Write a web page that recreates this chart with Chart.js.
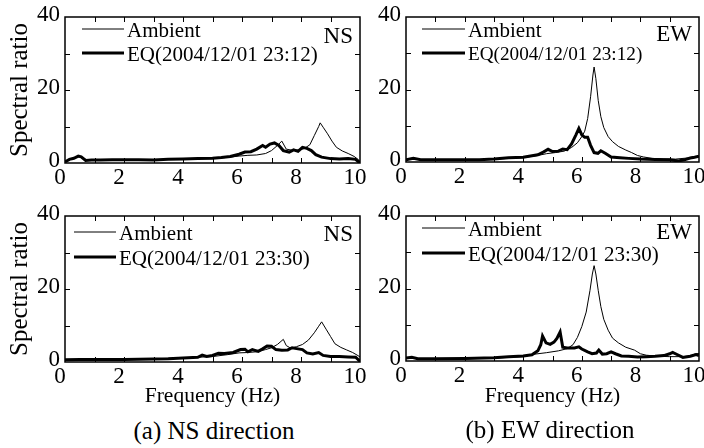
<!DOCTYPE html>
<html>
<head>
<meta charset="utf-8">
<script src="https://cdn.jsdelivr.net/npm/chart.js@4.4.1/dist/chart.umd.min.js"></script>
<style>
  body { margin: 0; background: #fff; width: 704px; height: 448px; overflow: hidden; position: relative; font-family: "Liberation Serif", "Times New Roman", Times, "DejaVu Serif", serif; }
  canvas { position: absolute; }
  .cap { position: absolute; font-size: 25px; color: #000; white-space: nowrap; transform: translate(-50%, -50%); }
</style>
</head>
<body>
<canvas id="nsTop" width="372" height="200" style="left:0;top:0"></canvas>
<canvas id="ewTop" width="334" height="200" style="left:370px;top:0"></canvas>
<canvas id="nsBot" width="372" height="210" style="left:0;top:200px"></canvas>
<canvas id="ewBot" width="334" height="210" style="left:370px;top:200px"></canvas>
<div class="cap" style="left:214px;top:431px">(a) NS direction</div>
<div class="cap" style="left:550px;top:430px">(b) EW direction</div>
<script>
// tick labels
const xTicks = [0, 2, 4, 6, 8, 10];
const yTicks = [0, 20, 40];

// NS, EQ 2004/12/01 23:12
const nsAmb1F = [0, 0.2, 0.4, 0.5, 0.6, 0.8, 1.0, 1.5, 2.0, 2.5, 3.0, 3.5, 4.0, 4.5, 5.0, 5.3, 5.6, 5.9, 6.2, 6.5, 6.8, 7.0, 7.2, 7.35, 7.5, 7.7, 7.9, 8.1, 8.3, 8.45, 8.6, 8.65, 8.75, 8.9, 9.05, 9.2, 9.4, 9.6, 9.8, 9.95, 10];
const nsAmb1 = [0.5, 1.0, 1.6, 1.7, 1.2, 0.8, 0.9, 0.9, 0.9, 0.9, 0.9, 1.0, 1.1, 1.2, 1.2, 1.4, 1.6, 1.9, 2.1, 2.2, 2.6, 3.4, 4.8, 6.0, 3.8, 3.5, 3.6, 3.9, 5.0, 7.5, 10.0, 11.0, 9.8, 8.0, 6.0, 4.3, 3.3, 2.6, 1.8, 0.9, 0.3];
const nsEq1F = [0, 0.15, 0.3, 0.45, 0.55, 0.7, 0.9, 1.2, 1.6, 2.0, 2.5, 3.0, 3.5, 4.0, 4.5, 5.0, 5.3, 5.6, 5.9, 6.1, 6.3, 6.5, 6.7, 6.8, 6.95, 7.1, 7.25, 7.4, 7.6, 7.75, 7.9, 8.05, 8.2, 8.35, 8.5, 8.7, 9.0, 9.3, 9.6, 9.85, 10];
const nsEq1 = [0.3, 1.0, 1.3, 1.9, 1.7, 0.7, 0.8, 0.8, 0.9, 0.9, 0.9, 0.8, 1.0, 1.1, 1.2, 1.3, 1.5, 1.8, 2.4, 3.0, 3.1, 3.8, 4.8, 4.3, 5.2, 5.5, 4.8, 3.4, 3.0, 3.6, 3.2, 4.3, 4.0, 3.4, 2.3, 1.6, 1.2, 1.1, 1.2, 1.0, 0];

// EW, EQ 2004/12/01 23:12
const ewAmb1F = [0, 0.25, 0.5, 1.0, 1.5, 2.0, 2.5, 3.0, 3.5, 4.0, 4.5, 4.8, 5.1, 5.4, 5.65, 5.85, 6.0, 6.1, 6.2, 6.3, 6.38, 6.42, 6.48, 6.56, 6.65, 6.75, 6.9, 7.05, 7.25, 7.5, 7.7, 7.9, 8.1, 8.4, 8.8, 9.2, 9.6, 9.8, 10];
const ewAmb1 = [0.6, 1.0, 0.6, 0.6, 0.6, 0.6, 0.6, 0.8, 1.0, 1.2, 1.8, 2.3, 2.6, 3.0, 4.0, 5.3, 7.0, 8.5, 12.0, 18.0, 24.0, 26.2, 23.0, 17.0, 12.5, 9.5, 7.0, 5.6, 4.3, 3.3, 2.6, 1.8, 1.4, 1.0, 0.8, 0.8, 1.1, 1.4, 1.5];
const ewEq1F = [0, 0.25, 0.5, 1.0, 1.5, 2.0, 2.5, 3.0, 3.5, 4.0, 4.3, 4.5, 4.7, 4.85, 5.0, 5.2, 5.35, 5.5, 5.65, 5.8, 5.9, 6.0, 6.1, 6.2, 6.3, 6.42, 6.55, 6.65, 6.8, 7.0, 7.3, 7.6, 8.0, 8.5, 9.0, 9.3, 9.5, 9.7, 9.85, 10];
const ewEq1 = [0.6, 1.0, 0.6, 0.6, 0.6, 0.6, 0.6, 0.8, 1.2, 1.3, 1.7, 2.0, 2.8, 3.5, 2.9, 3.0, 3.6, 3.4, 5.0, 7.5, 9.3, 7.5, 6.8, 6.8, 4.6, 2.6, 2.4, 3.1, 2.4, 1.4, 1.2, 1.0, 0.8, 0.7, 0.6, 0.3, 0.6, 1.1, 1.3, 1.6];

// NS, EQ 2004/12/01 23:30
const nsAmb2F = [0, 0.5, 1.0, 2.0, 3.0, 4.0, 4.5, 5.0, 5.5, 5.9, 6.2, 6.5, 6.8, 7.0, 7.2, 7.4, 7.5, 7.65, 7.85, 8.05, 8.25, 8.45, 8.6, 8.7, 8.85, 9.0, 9.15, 9.35, 9.55, 9.75, 9.9, 10];
const nsAmb2 = [0.6, 0.7, 0.7, 0.8, 0.9, 1.1, 1.3, 1.5, 2.0, 2.5, 2.6, 2.8, 3.4, 3.9, 4.8, 6.2, 4.5, 3.8, 4.2, 4.8, 6.0, 8.0, 9.8, 11.0, 9.0, 7.0, 5.0, 4.0, 3.3, 2.6, 1.9, 1.4];
const nsEq2F = [0, 0.5, 1.0, 2.0, 3.0, 3.5, 4.0, 4.5, 4.65, 4.8, 5.0, 5.2, 5.4, 5.7, 5.95, 6.1, 6.2, 6.35, 6.55, 6.7, 6.85, 7.0, 7.15, 7.35, 7.55, 7.7, 7.9, 8.05, 8.2, 8.4, 8.6, 8.75, 9.0, 9.3, 9.6, 9.85, 10];
const nsEq2 = [0.6, 0.7, 0.7, 0.7, 0.8, 0.9, 1.1, 1.3, 1.9, 1.5, 1.8, 2.4, 2.3, 2.6, 3.4, 3.5, 2.8, 3.4, 2.9, 3.6, 4.4, 4.3, 3.4, 3.2, 3.3, 3.9, 3.6, 3.4, 2.5, 2.2, 2.6, 1.8, 1.5, 1.5, 1.4, 1.3, 0.2];

// EW, EQ 2004/12/01 23:30
const ewAmb2F = [0, 0.2, 0.4, 1.0, 2.0, 3.0, 3.5, 4.0, 4.4, 4.8, 5.2, 5.5, 5.7, 5.85, 6.0, 6.15, 6.28, 6.36, 6.42, 6.48, 6.56, 6.65, 6.75, 6.9, 7.05, 7.25, 7.5, 7.8, 8.0, 8.2, 8.6, 9.0, 9.4, 9.7, 9.85, 10];
const ewAmb2 = [0.8, 1.0, 0.6, 0.6, 0.6, 0.8, 1.0, 1.2, 1.9, 2.3, 2.8, 3.4, 4.5, 6.5, 9.5, 13.5, 19.5, 24.0, 26.3, 24.0, 19.5, 15.0, 11.5, 8.5, 6.3, 5.0, 3.8, 3.0, 2.0, 1.6, 1.3, 1.2, 1.2, 1.4, 1.9, 2.1];
const ewEq2F = [0, 0.2, 0.4, 1.0, 2.0, 3.0, 3.5, 4.0, 4.3, 4.5, 4.6, 4.66, 4.78, 4.92, 5.05, 5.15, 5.26, 5.35, 5.5, 5.75, 5.9, 6.0, 6.2, 6.35, 6.5, 6.58, 6.7, 6.85, 7.0, 7.15, 7.35, 7.6, 7.9, 8.2, 8.5, 8.8, 9.0, 9.1, 9.25, 9.45, 9.7, 9.9, 10];
const ewEq2 = [0.8, 1.0, 0.6, 0.6, 0.7, 0.9, 1.2, 1.4, 1.7, 2.8, 4.5, 6.9, 5.0, 4.6, 5.2, 6.2, 8.0, 3.8, 3.6, 3.6, 3.9, 3.3, 2.5, 2.0, 2.2, 3.0, 1.9, 2.0, 2.5, 2.0, 1.4, 1.3, 1.1, 1.2, 1.3, 1.5, 2.0, 2.4, 1.8, 1.0, 1.3, 1.8, 1.5];

const FONT = '"Liberation Serif", "Times New Roman", Times, "DejaVu Serif", serif';

function toPoints(fs, vs) {
    return fs.map((f, i) => ({ x: f, y: vs[i] }));
}

// frame, inward tick marks, legend and direction label
const panelDecor = {
    id: 'panelDecor',
    afterDatasetsDraw(chart, args, o) {
        const { ctx, chartArea: a, scales: { x, y } } = chart;
        ctx.save();
        ctx.strokeStyle = '#000';
        ctx.lineWidth = 1.5;
        ctx.strokeRect(a.left, a.top, a.right - a.left, a.bottom - a.top);
        ctx.lineWidth = 1;
        ctx.beginPath();
        x.ticks.forEach(t => {
            if (t.value <= 0 || t.value >= 10) return;
            const px = Math.round(x.getPixelForValue(t.value)) + 0.5;
            ctx.moveTo(px, a.bottom); ctx.lineTo(px, a.bottom - 5);
            ctx.moveTo(px, a.top); ctx.lineTo(px, a.top + 5);
        });
        y.ticks.forEach(t => {
            if (t.value <= 0 || t.value >= 40) return;
            const py = Math.round(y.getPixelForValue(t.value)) + 0.5;
            ctx.moveTo(a.left, py); ctx.lineTo(a.left + 5, py);
            ctx.moveTo(a.right, py); ctx.lineTo(a.right - 5, py);
        });
        ctx.stroke();

        // legend
        ctx.fillStyle = '#000';
        ctx.textBaseline = 'middle';
        ctx.textAlign = 'left';
        chart.data.datasets.forEach((ds, i) => {
            const ly = a.top + o.legY[i];
            ctx.lineWidth = ds.borderWidth;
            ctx.beginPath();
            ctx.moveTo(a.left + o.legX[0], ly);
            ctx.lineTo(a.left + o.legX[1], ly);
            ctx.stroke();
            ctx.font = o.legFont[i] + 'px ' + FONT;
            ctx.fillText(ds.label, a.left + o.legX[1] + 3, ly + 2);
        });

        ctx.font = '23px ' + FONT;
        ctx.textAlign = 'right';
        ctx.fillText(o.dir, a.right - 7, a.top + o.dirY);
        ctx.restore();
    }
};

function makePanel(id, ambF, amb, eqF, eq, cfg) {
    new Chart(document.getElementById(id), {
        type: 'line',
        data: {
            datasets: [
                { label: 'Ambient', data: toPoints(ambF, amb), borderColor: '#000', borderWidth: 1, pointRadius: 0, tension: 0 },
                { label: cfg.eqLabel, data: toPoints(eqF, eq), borderColor: '#000', borderWidth: 3, pointRadius: 0, tension: 0 }
            ]
        },
        options: {
            responsive: false,
            animation: false,
            layout: { padding: { top: cfg.padTop, right: cfg.padRight, left: 0, bottom: 0 } },
            plugins: {
                legend: { display: false },
                tooltip: { enabled: false },
                panelDecor: cfg.decor
            },
            scales: {
                x: {
                    type: 'linear', min: 0, max: 10,
                    grid: { display: false, drawTicks: false },
                    border: { display: false },
                    ticks: {
                        stepSize: 1, autoSkip: false, maxRotation: 0, padding: 1, labelOffset: -5,
                        color: '#000', font: { family: FONT, size: 23 },
                        callback: v => xTicks.includes(v) ? String(v) : ''
                    },
                    title: {
                        display: cfg.xTitle, text: 'Frequency (Hz)', color: '#000',
                        font: { family: FONT, size: 21.5 }, padding: { top: 0, bottom: 1 }
                    },
                    afterFit: s => { s.height = cfg.xH; s.paddingLeft = 0; s.paddingRight = 0; }
                },
                y: {
                    min: 0, max: 40,
                    grid: { display: false, drawTicks: false },
                    border: { display: false },
                    ticks: {
                        stepSize: 10, autoSkip: false, padding: 5, labelOffset: -2,
                        color: '#000', font: { family: FONT, size: 23 },
                        callback: v => yTicks.includes(v) ? String(v) : ''
                    },
                    title: {
                        display: cfg.yTitle, text: 'Spectral ratio', color: '#000',
                        font: { family: FONT, size: 25 }, padding: { top: 5, bottom: 0 }
                    },
                    afterFit: s => { s.width = cfg.yW; s.paddingTop = 0; s.paddingBottom = 0; }
                }
            }
        },
        plugins: [panelDecor]
    });
}

makePanel('nsTop', nsAmb1F, nsAmb1, nsEq1F, nsEq1, {
    eqLabel: 'EQ(2004/12/01 23:12)', padTop: 17, padRight: 12, xH: 37, yW: 65, xTitle: false, yTitle: true,
    decor: { legX: [17, 59], legY: [12, 36], legFont: [21, 21], dir: 'NS', dirY: 20 }
});
makePanel('ewTop', ewAmb1F, ewAmb1, ewEq1F, ewEq1, {
    eqLabel: 'EQ(2004/12/01 23:12)', padTop: 17, padRight: 5, xH: 38, yW: 36, xTitle: false, yTitle: false,
    decor: { legX: [16, 59], legY: [12, 36], legFont: [21, 19.2], dir: 'EW', dirY: 18 }
});
makePanel('nsBot', nsAmb2F, nsAmb2, nsEq2F, nsEq2, {
    eqLabel: 'EQ(2004/12/01 23:30)', padTop: 16, padRight: 12, xH: 48, yW: 65, xTitle: true, yTitle: true,
    decor: { legX: [9, 51], legY: [16, 41], legFont: [21, 21], dir: 'NS', dirY: 19 }
});
makePanel('ewBot', ewAmb2F, ewAmb2, ewEq2F, ewEq2, {
    eqLabel: 'EQ(2004/12/01 23:30)', padTop: 16, padRight: 5, xH: 49, yW: 36, xTitle: true, yTitle: false,
    decor: { legX: [16, 59], legY: [12, 37], legFont: [21, 21], dir: 'EW', dirY: 17 }
});
</script>
</body>
</html>
